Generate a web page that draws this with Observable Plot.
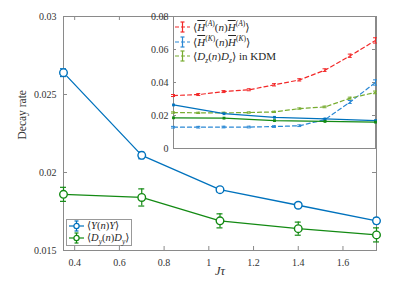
<!DOCTYPE html>
<html><head><meta charset="utf-8">
<script src="https://cdn.jsdelivr.net/npm/d3@7"></script>
<script src="https://cdn.jsdelivr.net/npm/@observablehq/plot@0.6"></script>
<style>
body{margin:0;background:#fff;}
#wrap{position:relative;width:407px;height:298px;font-family:"Liberation Serif","Times New Roman","DejaVu Serif",serif;color:#262626;}
#wrap svg text{font-family:"Liberation Serif","Times New Roman","DejaVu Serif",serif;}
.leg{position:absolute;font-size:10.5px;line-height:12px;white-space:nowrap;}
.leg .row{display:flex;align-items:center;height:12px;}
.leg svg{flex:none;margin-right:2px;}
.ov{text-decoration:overline;font-style:italic;}
sup,sub{font-size:7.5px;line-height:0;}
</style></head><body><div id="wrap"></div>
<script>
// main panel data
const jt = [0.35, 0.7, 1.05, 1.4, 1.75];
const yY = [0.0264, 0.0211, 0.0189, 0.0179, 0.0169];
const eY = [0.00025, 0.00022, 0.00015, 0.00015, 0.00018];
const yD = [0.0186, 0.0184, 0.0169, 0.0164, 0.0160];
const eD = [0.00045, 0.00055, 0.00045, 0.00042, 0.00045];
const xTicks = [0.4, 0.6, 0.8, 1, 1.2, 1.4, 1.6];
const yTicks = [0.015, 0.02, 0.025, 0.03];
// inset data
const jtI = [0.35, 0.525, 0.7, 0.875, 1.05, 1.225, 1.4, 1.575, 1.75];
const hA = [0.0321, 0.0327, 0.0345, 0.0356, 0.0386, 0.0416, 0.0475, 0.0562, 0.0655];
const eA = [0.0006, 0.0006, 0.0006, 0.0006, 0.0007, 0.0007, 0.0008, 0.001, 0.0016];
const hK = [0.0129, 0.0129, 0.013, 0.013, 0.0133, 0.0138, 0.0175, 0.0282, 0.0400];
const eK = [0.0005, 0.0005, 0.0005, 0.0005, 0.0005, 0.0005, 0.0007, 0.0009, 0.0016];
const dZ = [0.0218, 0.0216, 0.0216, 0.0218, 0.0222, 0.0242, 0.0252, 0.0305, 0.0340];
const eZ = [0.0004, 0.0004, 0.0004, 0.0004, 0.0004, 0.0004, 0.0005, 0.0006, 0.0008];
const yTicksI = [0, 0.02, 0.04, 0.06, 0.08];

const BLUE = "#0072bd", GREEN = "#138a13", RED = "#f22828", LBLUE = "#2a88d4", LGREEN = "#77ac30", AX = "#8a8a8a";
const FONT = "'Liberation Serif','Times New Roman','DejaVu Serif',serif";

const rows = (xs, ys, es) => xs.map((x, i) => ({x, y: ys[i], e: es[i]}));
const dY = rows(jt, yY, eY), dD = rows(jt, yD, eD);

function errMarks(data, color, cap, sw) {
  return [
    Plot.ruleX(data, {x: "x", y1: d => d.y - d.e, y2: d => d.y + d.e, stroke: color, strokeWidth: sw}),
    Plot.ruleY(data, {y: d => d.y - d.e, x1: "x", x2: "x", insetLeft: -cap, insetRight: -cap, stroke: color, strokeWidth: sw}),
    Plot.ruleY(data, {y: d => d.y + d.e, x1: "x", x2: "x", insetLeft: -cap, insetRight: -cap, stroke: color, strokeWidth: sw})
  ];
}

const W = 407, H = 298, mL = 63, mR = 31, mT = 16, mB = 48;
const fw = W - mL - mR, fh = H - mT - mB;
const main = Plot.plot({
  width: W, height: H, marginLeft: mL, marginRight: mR, marginTop: mT, marginBottom: mB,
  style: {position: "absolute", left: "0px", top: "0px", background: "transparent", fontFamily: FONT, fontSize: "10px", color: "#333"},
  x: {domain: [0.35, 1.75], axis: null},
  y: {domain: [0.015, 0.03], axis: null},
  marks: [
    Plot.frame({stroke: AX}),
    Plot.tickX(xTicks, {x: d => d, insetTop: fh - 4, stroke: AX}),
    Plot.tickX(xTicks, {x: d => d, insetBottom: fh - 4, stroke: AX}),
    Plot.tickY(yTicks, {y: d => d, insetRight: fw - 4, stroke: AX}),
    Plot.tickY(yTicks, {y: d => d, insetLeft: fw - 4, stroke: AX}),
    Plot.axisX({ticks: xTicks, tickSize: 0, tickPadding: 8, tickFormat: d => String(d), label: null, fontFamily: FONT}),
    Plot.axisY({ticks: yTicks, tickSize: 0, tickPadding: 7, tickFormat: d => String(d), label: null, fontFamily: FONT}),
    Plot.text(["Decay rate"], {frameAnchor: "left", rotate: -90, dx: -41, dy: 6, text: d => d, fontSize: 11.5, fontFamily: FONT}),
    Plot.text(["Jτ"], {frameAnchor: "bottom", dy: 24, text: d => d, fontSize: 12.5, fontStyle: "italic", fontFamily: FONT}),
    Plot.line(dY, {x: "x", y: "y", stroke: BLUE, strokeWidth: 1.3}),
    Plot.line(dD, {x: "x", y: "y", stroke: GREEN, strokeWidth: 1.3}),
    ...errMarks(dY, BLUE, 3, 1.2),
    ...errMarks(dD, GREEN, 3, 1.2),
    Plot.dot(dY, {x: "x", y: "y", r: 3.8, fill: "white", stroke: BLUE, strokeWidth: 1.4}),
    Plot.dot(dD, {x: "x", y: "y", r: 3.8, fill: "white", stroke: GREEN, strokeWidth: 1.4})
  ]
});

// inset
const iL = 120, iW = 260, iH = 155, imL = 53, imR = 5, imT = 16, imB = 7;
const ifw = iW - imL - imR, ifh = iH - imT - imB;
const dA = rows(jtI, hA, eA), dK = rows(jtI, hK, eK), dZd = rows(jtI, dZ, eZ);
const inset = Plot.plot({
  width: iW, height: iH, marginLeft: imL, marginRight: imR, marginTop: imT, marginBottom: imB,
  style: {position: "absolute", left: iL + "px", top: "0px", background: "transparent", fontFamily: FONT, fontSize: "10px", color: "#333"},
  x: {domain: [0.35, 1.75], axis: null},
  y: {domain: [0, 0.08], axis: null},
  marks: [
    Plot.frame({fill: "white", stroke: AX}),
    Plot.tickY(yTicksI, {y: d => d, insetRight: ifw - 3, stroke: AX}),
    Plot.tickY(yTicksI, {y: d => d, insetLeft: ifw - 3, stroke: AX}),
    Plot.axisY({ticks: yTicksI, tickSize: 0, tickPadding: 5, tickFormat: d => String(d), label: null, fontFamily: FONT}),
    Plot.line(dA, {x: "x", y: "y", stroke: RED, strokeWidth: 1.2, strokeDasharray: "4,3"}),
    Plot.line(dK, {x: "x", y: "y", stroke: LBLUE, strokeWidth: 1.2, strokeDasharray: "4,3"}),
    Plot.line(dZd, {x: "x", y: "y", stroke: LGREEN, strokeWidth: 1.2, strokeDasharray: "4,3"}),
    ...errMarks(dA, RED, 2, 1),
    ...errMarks(dK, LBLUE, 2, 1),
    ...errMarks(dZd, LGREEN, 2, 1),
    Plot.line(dY, {x: "x", y: "y", stroke: BLUE, strokeWidth: 1.3}),
    Plot.line(dD, {x: "x", y: "y", stroke: GREEN, strokeWidth: 1.3}),
    Plot.dot(dY, {x: "x", y: "y", r: 1.6, symbol: "square", fill: BLUE}),
    Plot.dot(dD, {x: "x", y: "y", r: 1.6, symbol: "square", fill: GREEN})
  ]
});

const wrap = document.getElementById("wrap");
wrap.appendChild(main);
wrap.appendChild(inset);

function sym(color, dashed, circle) {
  return `<svg width="17" height="12"><line x1="1" x2="16" y1="6" y2="6" stroke="${color}" stroke-width="1.2" ${dashed ? 'stroke-dasharray="4,2"' : ''}/>` +
    `<line x1="8.5" x2="8.5" y1="1" y2="11" stroke="${color}" stroke-width="1.2"/>` +
    `<line x1="6.5" x2="10.5" y1="1" y2="1" stroke="${color}" stroke-width="1.2"/>` +
    `<line x1="6.5" x2="10.5" y1="11" y2="11" stroke="${color}" stroke-width="1.2"/>` +
    (circle ? `<circle cx="8.5" cy="6" r="2.6" fill="white" stroke="${color}" stroke-width="1.2"/>` : '') + `</svg>`;
}
const legMain = document.createElement("div");
legMain.className = "leg";
legMain.style.cssText = "left:66px;top:219px;border:1px solid #999;background:#fff;padding:0 2px 1px 1px;";
legMain.innerHTML =
  `<div class="row">${sym(BLUE, false, true)}<span>⟨<i>Y</i>(<i>n</i>)<i>Y</i>⟩</span></div>` +
  `<div class="row">${sym(GREEN, false, true)}<span>⟨<i>D<sub>y</sub></i>(<i>n</i>)<i>D<sub>y</sub></i>⟩</span></div>`;
wrap.appendChild(legMain);

const legIn = document.createElement("div");
legIn.className = "leg";
legIn.style.cssText = "left:174px;top:19px;font-size:11px;";
legIn.innerHTML =
  `<div class="row" style="height:16px">${sym(RED, true, false)}<span>⟨<span class="ov">H</span><sup>(<i>A</i>)</sup>(<i>n</i>)<span class="ov">H</span><sup>(<i>A</i>)</sup>⟩</span></div>` +
  `<div class="row" style="height:14px">${sym(LBLUE, true, false)}<span>⟨<span class="ov">H</span><sup>(<i>K</i>)</sup>(<i>n</i>)<span class="ov">H</span><sup>(<i>K</i>)</sup>⟩</span></div>` +
  `<div class="row" style="height:13px">${sym(LGREEN, true, false)}<span>⟨<i>D<sub>z</sub></i>(<i>n</i>)<i>D<sub>z</sub></i>⟩ in KDM</span></div>`;
wrap.appendChild(legIn);
</script></body></html>
